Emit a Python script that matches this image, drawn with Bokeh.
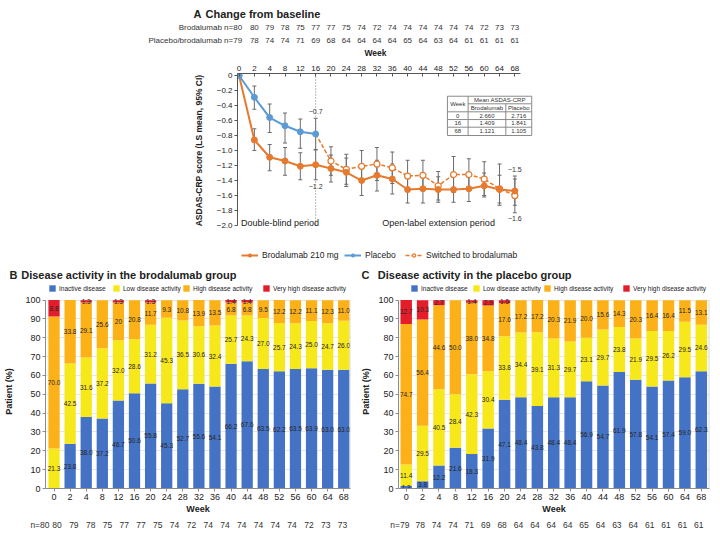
import math
from bokeh.plotting import figure
from bokeh.models import (Range1d, FixedTicker, Label, Legend, LegendItem, Whisker,
                          TeeHead, ColumnDataSource)
from bokeh.layouts import column, row
from bokeh.embed import file_html
from bokeh.resources import INLINE
from bokeh.core.properties import value

FONT = "Liberation Sans"
MINUS = "\u2212"

# ---------------- data ----------------
weeks = [0, 2, 4, 8, 12, 16, 20, 24, 28, 32, 36, 40, 44, 48, 52, 56, 60, 64, 68]
brod_n = [80, 80, 79, 78, 75, 77, 77, 75, 74, 72, 74, 74, 74, 74, 74, 74, 72, 73, 73]
pbo_n = [79, 78, 74, 74, 71, 69, 68, 64, 64, 64, 64, 65, 64, 63, 64, 61, 61, 61, 61]

brod_mean = [0, -0.86, -1.09, -1.14, -1.21, -1.19, -1.24, -1.29, -1.40, -1.33, -1.38,
             -1.52, -1.51, -1.52, -1.52, -1.51, -1.47, -1.52, -1.54]
brod_upper = [0, -0.71, -0.92, -0.96, -1.03, -0.99, -1.06, -1.10, -1.20, -1.13, -1.18,
              -1.34, -1.33, -1.35, -1.34, -1.33, -1.30, -1.33, -1.34]
brod_lower = [0, -1.00, -1.27, -1.33, -1.39, -1.39, -1.42, -1.48, -1.60, -1.54, -1.58,
              -1.70, -1.70, -1.69, -1.69, -1.68, -1.62, -1.70, -1.73]

pbo_mean = [0, -0.29, -0.56, -0.67, -0.75, -0.78]
pbo_upper = [0, -0.14, -0.38, -0.50, -0.58, -0.57]
pbo_lower = [0, -0.45, -0.76, -0.90, -0.97, -0.99]

sw_mean = [-0.78, -1.14, -1.25, -1.21, -1.18, -1.23, -1.34, -1.33, -1.47, -1.32, -1.32,
           -1.38, -1.51, -1.60]
sw_upper = [None, -0.95, -1.05, -1.00, -0.96, -1.02, -1.13, -1.13, -1.28, -1.08, -1.11,
            -1.15, -1.18, -1.38]
sw_lower = [None, -1.33, -1.45, -1.42, -1.40, -1.44, -1.55, -1.53, -1.66, -1.56, -1.53,
            -1.60, -1.73, -1.83]

callouts = [(5, -0.48, "-0.7"), (5, -1.48, "-1.2"), (18, -1.253, "-1.5"), (18, -1.91, "-1.6")]

table_weeks = ["0", "16", "68"]
table_brod = ["2.660", "1.409", "1.121"]
table_pbo = ["2.716", "1.841", "1.105"]

categories = ["Inactive disease", "Low disease activity", "High disease activity",
              "Very high disease activity"]
cat_colors = ["#4472C4", "#F7E81C", "#FBB117", "#E31E2A"]

B_inactive = [0, 23.8, 38.0, 37.2, 46.7, 50.6, 55.8, 45.3, 52.7, 55.6, 54.1, 66.2, 67.6,
              63.5, 62.2, 63.5, 63.9, 63.0, 63.0]
B_low = [21.3, 42.5, 31.6, 37.2, 32.0, 28.6, 31.2, 45.3, 36.5, 30.6, 32.4, 25.7, 24.3,
         27.0, 25.7, 24.3, 25.0, 24.7, 26.0]
B_high = [70.0, 33.8, 29.1, 25.6, 20.0, 20.8, 11.7, 9.3, 10.8, 13.9, 13.5, 6.8, 6.8,
          9.5, 12.2, 12.2, 11.1, 12.3, 11.0]
B_vhigh = [8.8, 0, 1.3, 0, 1.3, 0, 1.3, 0, 0, 0, 0, 1.4, 1.4, 0, 0, 0, 0, 0, 0]
# label printed as "20" (not "20.0") in the source figure: (category index, week index)
B_label_override = {(2, 4): "20"}

C_inactive = [1.3, 3.8, 12.2, 21.6, 18.3, 31.9, 47.1, 48.4, 43.8, 48.4, 48.4, 56.9, 54.7,
              61.9, 57.8, 54.1, 57.4, 59.0, 62.3]
C_low = [11.4, 29.5, 40.5, 28.4, 42.3, 30.4, 33.8, 34.4, 39.1, 31.3, 29.7, 23.1, 29.7,
         23.8, 21.9, 29.5, 26.2, 29.5, 24.6]
C_high = [74.7, 56.4, 44.6, 50.0, 38.0, 34.8, 17.6, 17.2, 17.2, 20.3, 21.9, 20.0, 15.6,
          14.3, 20.3, 16.4, 16.4, 11.5, 13.1]
C_vhigh = [12.7, 10.3, 2.7, 0, 1.4, 2.9, 1.5, 0, 0, 0, 0, 0, 0, 0, 0, 0, 0, 0, 0]

ORANGE = "#E67A2E"
BLUE = "#5B9BD5"
GREY = "#6b6b6b"
TXT = "#222222"
idx = list(range(len(weeks)))
ORIGIN = 1  # observed page origin of the layout


def lab(p, x, y, text, size="8px", align="left", bold=False, color=TXT, angle=0):
    p.add_layout(Label(x=x, y=y, text=text, text_font=FONT, text_font_size=size,
                       text_align=align, text_baseline="middle", text_color=color,
                       text_font_style="bold" if bold else "normal", angle=angle))


def blank(width, height, xr, yr):
    p = figure(width=width, height=height, x_range=Range1d(*xr), y_range=Range1d(*yr),
               x_axis_type=None, y_axis_type=None, output_backend="svg",
               toolbar_location=None, min_border=0, min_border_left=0,
               min_border_right=0, min_border_top=0, min_border_bottom=0)
    p.outline_line_color = None
    p.frame_align = False
    return p


def single_legend(p, label, renderers, loc, gw, gh, size, standoff=4):
    leg = Legend(items=[LegendItem(label=label, renderers=renderers)], location=loc,
                 orientation="horizontal", padding=0, margin=0, border_line_color=None,
                 background_fill_alpha=0, glyph_width=gw, glyph_height=gh,
                 label_text_font=FONT, label_text_font_size=size, label_standoff=standoff,
                 label_height=gh, label_text_color=TXT, spacing=0)
    p.add_layout(leg)


# ---------------- Panel A: chart ----------------
TOTAL_W = 712
T_H = 204
AXIS_X = 237                    # layout-relative x of the y axis line
T_LEFT, T_TOP, T_FRAME_W = 28, 15, 308
YL_W = AXIS_X - T_LEFT
T_W = TOTAL_W - YL_W
T_RIGHT = T_W - T_LEFT - T_FRAME_W
T_XR = (-0.1, 20.0)
T_YR = (-2.493, 0.027)
top = figure(width=T_W, height=T_H, x_range=Range1d(*T_XR), y_range=Range1d(*T_YR),
             x_axis_location="above", output_backend="svg", toolbar_location=None,
             min_border_left=T_LEFT, min_border_right=T_RIGHT, min_border_top=T_TOP,
             min_border_bottom=0)
top.frame_align = False
top.outline_line_color = None
top.grid.visible = False

xa = top.xaxis[0]
xa.ticker = FixedTicker(ticks=idx)
xa.major_label_overrides = {i: str(w) for i, w in zip(idx, weeks)}
xa.bounds = (-0.1, 18.4)
xa.major_tick_in = 3
xa.major_tick_out = 0
xa.minor_tick_line_color = None
xa.major_label_text_font = FONT
xa.major_label_text_font_size = "8px"
xa.major_label_text_color = TXT
xa.major_label_standoff = 3
xa.axis_line_color = "#555555"
xa.major_tick_line_color = "#555555"

ya = top.yaxis[0]
yt = [round(-0.2 * i, 1) for i in range(11)]
ya.ticker = FixedTicker(ticks=yt)
ya.major_label_overrides = {t: ("0" if t == 0 else MINUS + f"{abs(t):.1f}") for t in yt}
ya.bounds = (-2.0, 0.027)
ya.minor_tick_line_color = None
ya.major_tick_in = 0
ya.major_tick_out = 3
ya.major_label_text_font = FONT
ya.major_label_text_font_size = "8px"
ya.major_label_text_color = TXT
ya.major_label_standoff = 2
ya.axis_line_color = "#555555"
ya.major_tick_line_color = "#555555"

# end of double-blind period (week 16)
top.segment(x0=[weeks.index(16)], y0=[0.027], x1=[weeks.index(16)], y1=[-2.0],
            line_color="#777777", line_dash="1 2", line_width=1)


def whisk(p, xs, up, lo):
    pts = [(x, u, l) for x, u, l in zip(xs, up, lo) if u is not None and (u != 0 or l != 0)]
    src = ColumnDataSource(dict(x=[a for a, _, _ in pts], u=[b for _, b, _ in pts],
                                l=[c for _, _, c in pts]))
    w = Whisker(source=src, base="x", upper="u", lower="l", line_color=GREY, line_width=1,
                upper_head=TeeHead(size=4, line_color=GREY, line_width=1),
                lower_head=TeeHead(size=4, line_color=GREY, line_width=1), level="underlay")
    p.add_layout(w)


whisk(top, idx, brod_upper, brod_lower)
whisk(top, idx[:6], pbo_upper, pbo_lower)
whisk(top, idx[5:], sw_upper, sw_lower)

sw_x = idx[5:]
r_swl = top.line(sw_x, sw_mean, line_color=ORANGE, line_width=1.5, line_dash="4 2")
r_sws = top.scatter(sw_x[1:], sw_mean[1:], marker="circle", size=6, fill_color="white",
                    line_color=ORANGE, line_width=1.2)
r_bl = top.line(idx, brod_mean, line_color=ORANGE, line_width=2)
r_bs = top.scatter(idx, brod_mean, marker="circle", size=6, fill_color=ORANGE, line_color=ORANGE)
r_pl = top.line(idx[:6], pbo_mean, line_color=BLUE, line_width=2)
r_ps = top.scatter(idx[:6], pbo_mean, marker="circle", size=6, fill_color=BLUE, line_color=BLUE)

for x, y, t in callouts:
    lab(top, x, y, t.replace("-", MINUS), size="7px", align="center", color="#333333")

lab(top, 0.13, -1.972, "Double-blind period", size="9px")
lab(top, 9.35, -1.972, "Open-label extension period", size="9px")

# table inset
tx = [13.6, 14.95, 17.41, 19.1]
ty = [-0.276, -0.377, -0.484, -0.587, -0.689, -0.80]
top.quad(left=tx[0], right=tx[3], top=ty[0], bottom=ty[5], fill_color="white",
         line_color="#8a8a8a", line_width=1)
top.segment(x0=[tx[1], tx[2], tx[1], tx[0], tx[0], tx[0]],
            y0=[ty[0], ty[1], ty[1], ty[2], ty[3], ty[4]],
            x1=[tx[1], tx[2], tx[3], tx[3], tx[3], tx[3]],
            y1=[ty[5], ty[5], ty[1], ty[2], ty[3], ty[4]],
            line_color="#8a8a8a", line_width=1)
c0 = (tx[0] + tx[1]) / 2
c1 = (tx[1] + tx[2]) / 2
c2 = (tx[2] + tx[3]) / 2
rows_y = [(ty[2] + ty[3]) / 2, (ty[3] + ty[4]) / 2, (ty[4] + ty[5]) / 2]
tt_x = [c0, (tx[1] + tx[3]) / 2, c1, c2] + [c0] * 3 + [c1] * 3 + [c2] * 3
tt_y = [(ty[0] + ty[2]) / 2, (ty[0] + ty[1]) / 2, (ty[1] + ty[2]) / 2,
        (ty[1] + ty[2]) / 2] + rows_y * 3
tt_t = ["Week", "Mean ASDAS-CRP", "Brodalumab", "Placebo"] + table_weeks + table_brod + table_pbo
top.text(x=tt_x, y=tt_y, text=tt_t, text_font=value(FONT), text_font_size="6px",
         text_align="center", text_baseline="middle", text_color="#333333")

single_legend(top, "Brodalumab 210 mg", [r_bl, r_bs], (4, 2), 17, 8, "8.5px")
single_legend(top, "Placebo", [r_pl, r_ps], (107, 2), 17, 8, "8.5px")
single_legend(top, "Switched to brodalumab", [r_swl, r_sws], (168, 2), 17, 8, "8.5px")

# y-axis title (separate strip left of the chart)
ylab = blank(YL_W, T_H, (0, YL_W), (0, T_H))
lab(ylab, YL_W - 11, T_H - 92, "ASDAS-CRP score (LS mean, 95% CI)", size="8.5px",
    align="center", bold=True, angle=math.pi / 2)

# ---------------- Panel A: header (title, n rows, Week) ----------------
ppu_t = T_FRAME_W / (T_XR[1] - T_XR[0])
x0_page = ORIGIN + AXIS_X - T_XR[0] * ppu_t          # page x of week index 0
H_H = 58
hx0 = (ORIGIN - x0_page) / ppu_t
head = blank(TOTAL_W, H_H, (hx0, hx0 + TOTAL_W / ppu_t), (0, H_H))


def hx(page_x):
    return hx0 + (page_x - ORIGIN) / ppu_t


lab(head, hx(194), 44.5, "A", size="11px", bold=True)
lab(head, hx(206), 44.5, "Change from baseline", size="11px", bold=True)
lab(head, 0.2, 30.7, "Brodalumab n=%d" % brod_n[0], size="8px", align="right", color="#333333")
lab(head, 0.2, 18.5, "Placebo/brodalumab n=%d" % pbo_n[0], size="8px", align="right",
    color="#333333")
for i in idx[1:]:
    lab(head, i, 30.7, str(brod_n[i]), size="8px", align="center", color="#333333")
    lab(head, i, 18.5, str(pbo_n[i]), size="8px", align="center", color="#333333")
lab(head, 8.9, 6, "Week", size="8.5px", align="center", bold=True)


# ---------------- Panels B and C ----------------
BC_H, HEAD_H, FOOT_H = 222, 32, 16
Y_TOP = 103.0


def bar_panel(letter, title, vals, n_list, width, left, right, xr, leg_x, title_x,
              n_first_right, n_positions, ylab_standoff, overrides):
    p = figure(width=width, height=BC_H, x_range=Range1d(*xr), y_range=Range1d(0, Y_TOP),
               output_backend="svg", toolbar_location=None,
               min_border_left=left, min_border_right=right, min_border_top=0,
               min_border_bottom=28)
    p.frame_align = False
    p.outline_line_color = None
    p.xgrid.visible = False
    p.ygrid.ticker = FixedTicker(ticks=list(range(10, 101, 10)))
    p.ygrid.grid_line_color = "#e6e6e6"
    keys = ["inactive", "low", "high", "vhigh"]
    data = dict(x=idx)
    for k, v in zip(keys, vals):
        data[k] = v
    src = ColumnDataSource(data)
    p.vbar_stack(keys, x="x", width=0.7, color=cat_colors, source=src, line_color=None)

    tx_, ty_, tt_ = [], [], []
    for i in idx:
        base = 0
        for ci, v in enumerate(vals):
            h = v[i]
            if h > 0:
                tx_.append(i)
                ty_.append(min(base + h / 2, 99.6))
                tt_.append(overrides.get((ci, i), f"{h:.1f}"))
            base += h
    p.text(x=tx_, y=ty_, text=tt_, text_font=value(FONT), text_font_size="6.5px",
           text_align="center", text_baseline="middle", text_color="#262626")

    p.segment(x0=[xr[1] - 0.02], y0=[0], x1=[xr[1] - 0.02], y1=[100],
              line_color="#c8c8c8", line_width=1)

    ax = p.xaxis[0]
    ax.ticker = FixedTicker(ticks=idx)
    ax.major_label_overrides = {i: str(w) for i, w in zip(idx, weeks)}
    ax.minor_tick_line_color = None
    ax.major_tick_in = 0
    ax.major_tick_out = 3
    ax.major_label_standoff = 2
    ax.major_label_text_font = FONT
    ax.major_label_text_font_size = "9px"
    ax.major_label_text_color = TXT
    ax.axis_line_color = "#8c8c8c"
    ax.major_tick_line_color = "#8c8c8c"
    ax.axis_label = "Week"
    ax.axis_label_text_font = FONT
    ax.axis_label_text_font_size = "9px"
    ax.axis_label_text_font_style = "bold"
    ax.axis_label_text_color = TXT
    ax.axis_label_standoff = 1

    ay = p.yaxis[0]
    ay.ticker = FixedTicker(ticks=list(range(0, 101, 10)))
    ay.bounds = (0, 100)
    ay.minor_tick_line_color = None
    ay.major_tick_in = 0
    ay.major_tick_out = 3
    ay.major_label_standoff = 2
    ay.major_label_text_font = FONT
    ay.major_label_text_font_size = "9px"
    ay.major_label_text_color = TXT
    ay.axis_line_color = "#8c8c8c"
    ay.major_tick_line_color = "#8c8c8c"
    ay.axis_label = "Patient (%)"
    ay.axis_label_text_font = FONT
    ay.axis_label_text_font_size = "9px"
    ay.axis_label_text_font_style = "bold"
    ay.axis_label_text_color = TXT
    ay.axis_label_standoff = ylab_standoff

    # header: title + legend
    h = blank(width, HEAD_H, (0, width), (0, HEAD_H))
    lab(h, title_x[0], 20, letter, size="11px", bold=True)
    lab(h, title_x[1], 20, title, size="11px", bold=True)
    for c, name, lx in zip(cat_colors, categories, leg_x):
        # off-screen, zero-height swatch renderer used only by the legend
        r = h.vbar(x=[-1000], top=[0], bottom=[0], width=1, fill_color=c, line_color=None)
        single_legend(h, name, [r], (lx, 2), 8, 8, "6.5px", standoff=3)

    # footer: n row
    ppu = (width - left - right) / (xr[1] - xr[0])
    idx0_fig = left - xr[0] * ppu
    fx0 = -idx0_fig / ppu
    f = blank(width, FOOT_H, (fx0, fx0 + width / ppu), (0, FOOT_H))
    lab(f, n_first_right, 8, "n=%d" % n_list[0], size="8.5px", align="right", color="#333333")
    for k, xpos in zip(idx[1:], n_positions):
        lab(f, xpos, 8, str(n_list[k]), size="8.5px", align="center", color="#333333")
    return column(h, p, f, spacing=0)


B_XR = (-0.53, 18.42)
C_XR = (-0.47, 18.5)
B_npos = [0.19 + (k - 1) * (17.73 / 17) for k in idx[1:]]
C_npos = [k - 0.15 for k in idx[1:]]

B_W = 355
C_W = TOTAL_W - B_W
pB = bar_panel("B", "Disease activity in the brodalumab group",
               [B_inactive, B_low, B_high, B_vhigh], brod_n, B_W, 45, B_W - 45 - 305, B_XR,
               [48, 112, 182, 262], (9, 20.7), -0.28, B_npos, 8, B_label_override)
pC = bar_panel("C", "Disease activity in the placebo group",
               [C_inactive, C_low, C_high, C_vhigh], pbo_n, C_W, 43, C_W - 43 - 311, C_XR,
               [55, 117, 188, 267], (6, 22.3), 0.2, C_npos, 4, {})

layout = column(head, row(ylab, top, spacing=0), row(pB, pC, spacing=0), spacing=0)
open("out.html", "w").write(file_html(layout, INLINE))
